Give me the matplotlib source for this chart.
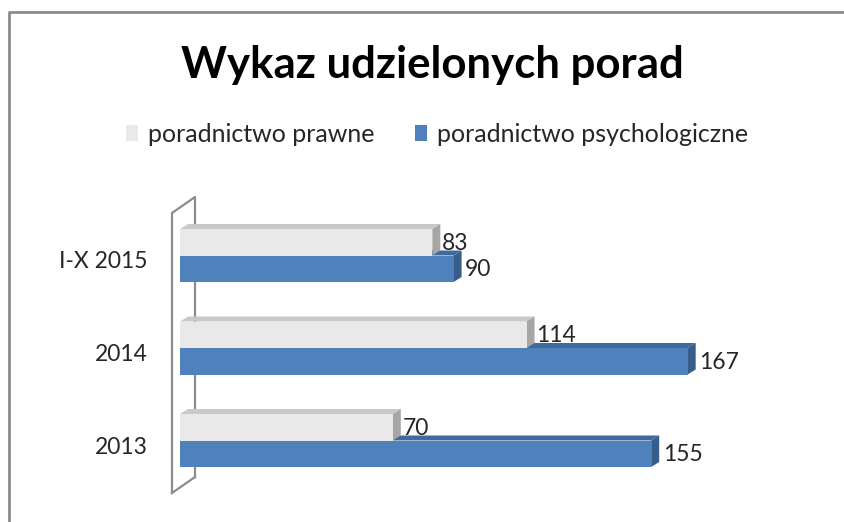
import numpy as np
import matplotlib
matplotlib.use("Agg")
import matplotlib.pyplot as plt
from matplotlib.patches import Polygon, Patch
from matplotlib.lines import Line2D

plt.rcParams['font.family'] = ['Lato', 'DejaVu Sans']

# data
categories = ["2013", "2014", "I-X 2015"]
series_names = ["poradnictwo prawne", "poradnictwo psychologiczne"]
prawne = [70, 114, 83]
psychologiczne = [155, 167, 90]

# colours: front, top, side
grey_cols = ("#e9e9e9", "#c9c9c9", "#a6a6a6")
blue_cols = ("#4f81bd", "#3e6a9e", "#385d8a")

W, H = 845, 522
fig = plt.figure(figsize=(W / 100, H / 100), dpi=100)

# axes geometry in pixels
ax_left, ax_right = 180, 788
ax_top, ax_bot = 209.25, 486.75
ax = fig.add_axes([ax_left / W, 1 - ax_bot / H, (ax_right - ax_left) / W, (ax_bot - ax_top) / H])
xmax = 200
ax.set_xlim(0, xmax)
ax.set_ylim(-0.5, 2.5)
ax.axis("off")

px_x = (ax_right - ax_left) / xmax      # pixels per unit x
px_y = (ax_bot - ax_top) / 3.0          # pixels per unit y
dx = 8 / px_x                           # depth offset in data units
dy = 5 / px_y
bar_h = 26.5 / px_y
shift = 6.5 / px_y

pos = np.arange(len(categories))


def bar3d(y0, val, cols):
    front, top, side = cols
    ax.add_patch(Polygon([(0, y0), (val, y0), (val, y0 + bar_h), (0, y0 + bar_h)],
                         closed=True, facecolor=front, edgecolor="none", zorder=3))
    ax.add_patch(Polygon([(0, y0 + bar_h), (val, y0 + bar_h), (val + dx, y0 + bar_h + dy),
                          (dx, y0 + bar_h + dy)],
                         closed=True, facecolor=top, edgecolor="none", zorder=2))
    ax.add_patch(Polygon([(val, y0), (val + dx, y0 + dy), (val + dx, y0 + bar_h + dy),
                          (val, y0 + bar_h)],
                         closed=True, facecolor=side, edgecolor="none", zorder=2))


for i in pos:
    base = i
    # psychologiczne below, prawne above
    bar3d(base - bar_h, psychologiczne[i], blue_cols)
    ax.text(psychologiczne[i] + dx + 1.2, base - bar_h / 2 - 1.0 / px_y,
            str(psychologiczne[i]), ha="left", va="center", fontsize=16.5,
            color="#262626", zorder=5)
for i in pos:
    base = i
    bar3d(base, prawne[i], grey_cols)
    ax.text(prawne[i] + dx + 0.6, base + bar_h / 2 - 1.0 / px_y,
            str(prawne[i]), ha="left", va="center", fontsize=16.5,
            color="#262626", zorder=5)

# category labels
for i, c in enumerate(categories):
    ax.text(-32 / px_x, i - shift, c, ha="right", va="center", fontsize=16.5, color="#262626")

# wall (side plane)
wx0 = -8 / px_x
wx1 = 15 / px_x
wy_top = 2.5 + (ax_top - 213) / px_y
wy_bot = -0.5 - (493 - ax_bot) / px_y
wdy = 16 / px_y
ax.add_line(Line2D([wx0, wx0, wx1, wx1], [wy_bot, wy_top, wy_top + wdy, wy_bot + wdy],
                   color="#8c8c8c", lw=1.6, zorder=1, clip_on=False))
ax.add_line(Line2D([wx0, wx1], [wy_bot, wy_bot + wdy], color="#8c8c8c", lw=1.6,
                   zorder=1, clip_on=False))

# title
fig.text(432 / W, 1 - 65 / H, "Wykaz udzielonych porad", ha="center", va="center",
         fontsize=31.5, fontweight="bold", color="black")

# legend
handles = [Patch(facecolor=grey_cols[0], edgecolor="none"),
           Patch(facecolor=blue_cols[0], edgecolor="none")]
fig.legend(handles, series_names, loc="center", bbox_to_anchor=(437 / W, 1 - 134 / H),
           ncol=2, frameon=False, fontsize=18, handlelength=0.5, handleheight=0.6,
           handletextpad=0.4, columnspacing=1.6, labelcolor="#262626")

# outer frame
fig.add_artist(Line2D([9 / W, 9 / W, 1.0], [0, 1 - 12 / H, 1 - 12 / H],
                      transform=fig.transFigure, color="#8c8c8c", lw=2))

fig.savefig("out.png", dpi=100, facecolor="white")
